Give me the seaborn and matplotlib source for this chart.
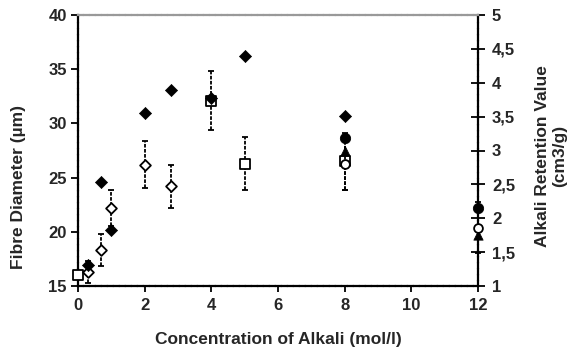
import matplotlib
matplotlib.use("Agg")
import matplotlib.pyplot as plt
import seaborn as sns
import numpy as np
import pandas as pd

sns.set_theme(style="white")
plt.rcParams['font.family'] = ['Liberation Sans', 'DejaVu Sans']
plt.rcParams['font.weight'] = 'bold'

# Fibre diameter (left axis)
fd_filled_x = [0.3, 0.7, 1.0, 2.0, 2.8, 4.0, 5.0, 8.0]
fd_filled_y = [16.9, 24.6, 20.2, 31.0, 33.1, 32.3, 36.2, 30.7]

fd_open_x = [0.3, 0.7, 1.0, 2.0, 2.8]
fd_open_y = [16.3, 18.3, 22.2, 26.2, 24.2]
fd_open_err = [1.0, 1.5, 1.7, 2.2, 2.0]

sq_x = [0.0, 4.0, 5.0, 8.0]
sq_y = [16.0, 32.1, 26.3, 26.5]
sq_err = [0.0, 2.7, 2.4, 2.6]

# Alkali retention value (right axis)
arv_filled_x = [8.0, 12.0]
arv_filled_y = [3.18, 2.15]
arv_tri_x = [8.0, 12.0]
arv_tri_y = [3.0, 1.75]
arv_open_x = [8.0, 12.0]
arv_open_y = [2.8, 1.86]
arv_open_err = [0.38, 0.38]

x_ticks = [0, 2, 4, 6, 8, 10, 12]
left_ticks = [15, 20, 25, 30, 35, 40]
right_ticks = [1, 1.5, 2, 2.5, 3, 3.5, 4, 4.5, 5]
right_labels = ['1', '1,5', '2', '2,5', '3', '3,5', '4', '4,5', '5']

FS = 12
LFS = 12.5

fig = plt.figure(figsize=(5.84, 3.54), dpi=100)
ax = fig.add_axes([78/584, 1-286/354, 400/584, 271/354])
ax2 = ax.twinx()

eb_kw = dict(fmt='none', ecolor='black', elinewidth=1.3, capsize=2.5, capthick=1.3, zorder=2)
for a, xs, ys, es in [(ax, fd_open_x, fd_open_y, fd_open_err), (ax, sq_x, sq_y, sq_err),
                      (ax2, arv_open_x, arv_open_y, arv_open_err)]:
    c = a.errorbar(xs, ys, yerr=es, **eb_kw)
    for lc in c.lines[2]:
        lc.set_linestyle((0, (2, 0.8)))
        lc.set_clip_on(False)
    for cap in c.lines[1]:
        cap.set_clip_on(False)

sc_kw = dict(legend=False, clip_on=False)
sns.scatterplot(x=fd_filled_x, y=fd_filled_y, ax=ax, marker='D', s=38, color='black',
                edgecolor='black', zorder=4, **sc_kw)
sns.scatterplot(x=sq_x, y=sq_y, ax=ax, marker='s', s=55, color='white',
                edgecolor='black', linewidth=1.3, zorder=3, **sc_kw)
sns.scatterplot(x=fd_open_x, y=fd_open_y, ax=ax, marker='D', s=30, color='white',
                edgecolor='black', linewidth=1.3, zorder=3, **sc_kw)
sns.scatterplot(x=arv_filled_x, y=arv_filled_y, ax=ax2, marker='o', s=55, color='black',
                edgecolor='black', zorder=4, **sc_kw)
sns.scatterplot(x=arv_tri_x, y=arv_tri_y, ax=ax2, marker='^', s=45, color='black',
                edgecolor='black', zorder=4, **sc_kw)
sns.scatterplot(x=arv_open_x, y=arv_open_y, ax=ax2, marker='o', s=40, color='white',
                edgecolor='black', linewidth=1.3, zorder=5, **sc_kw)

ax.set_xlim(0, 12)
ax.set_ylim(15, 40)
ax2.set_ylim(1, 5)
ax.set_xticks(x_ticks)
ax.set_yticks(left_ticks)
ax2.set_yticks(right_ticks)
ax2.set_yticklabels(right_labels)

for a in (ax, ax2):
    a.grid(False)
    for s in a.spines.values():
        s.set_visible(False)

dash = (0, (2, 0.7))
for name in ('left', 'bottom'):
    ax.spines[name].set_visible(True)
    ax.spines[name].set_linestyle(dash)
    ax.spines[name].set_color('black')
    ax.spines[name].set_linewidth(1.6)
ax2.spines['right'].set_visible(True)
ax2.spines['right'].set_linestyle(dash)
ax2.spines['right'].set_color('black')
ax2.spines['right'].set_linewidth(1.6)
ax2.spines['top'].set_visible(True)
ax2.spines['top'].set_linestyle(dash)
ax2.spines['top'].set_color('#999999')
ax2.spines['top'].set_linewidth(1.6)

ax.tick_params(axis='y', direction='out', length=5, width=1.3, color='black', labelsize=FS, pad=3, left=True)
ax.tick_params(axis='x', direction='out', length=4, width=1.3, color='black', labelsize=FS, pad=5, bottom=True)
ax2.tick_params(axis='y', direction='inout', length=10, width=1.3, color='black', labelsize=FS, pad=5, right=True)
for lab in ax.get_xticklabels() + ax.get_yticklabels() + ax2.get_yticklabels():
    lab.set_fontweight('bold')

ax.set_xlabel('Concentration of Alkali (mol/l)', fontsize=LFS, fontweight='bold', labelpad=13)
ax.set_ylabel('Fibre Diameter (µm)', fontsize=LFS, fontweight='bold')
ax.yaxis.set_label_coords(-0.13, 0.365)
ax2.set_ylabel('Alkali Retention Value\n(cm3/g)', fontsize=LFS, fontweight='bold',
               rotation=90, linespacing=1.2)
ax2.yaxis.set_label_coords(1.1425, 0.48)

fig.savefig('out.png', dpi=100)
